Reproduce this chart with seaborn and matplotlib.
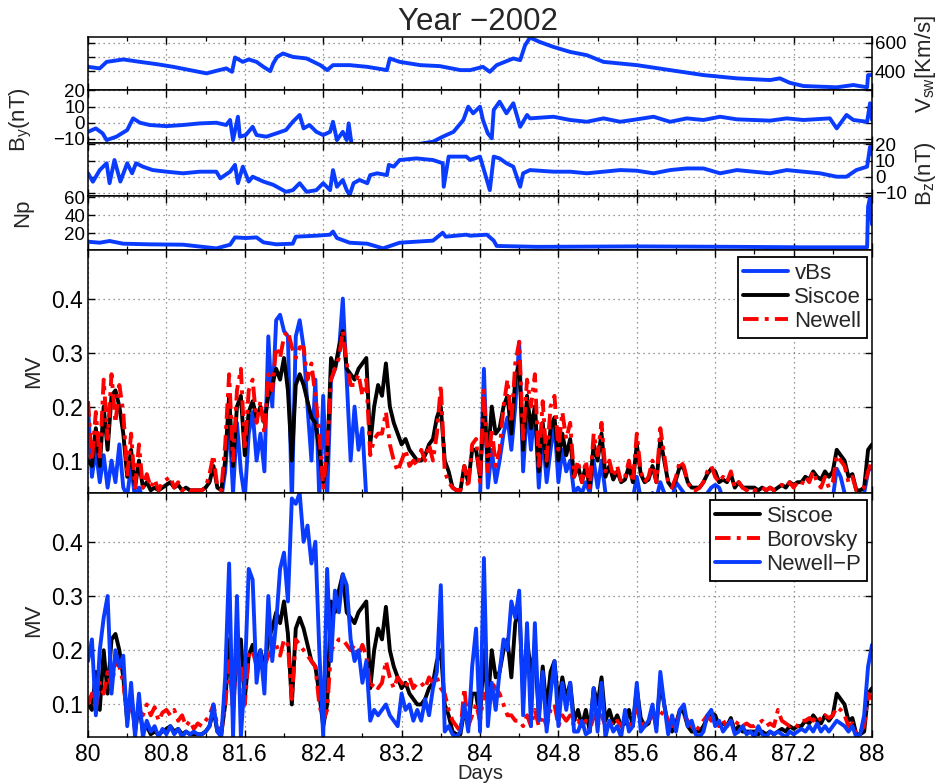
import numpy as np
import pandas as pd
import matplotlib
matplotlib.use("Agg")
import matplotlib.pyplot as plt
import seaborn as sns

# ------------------------------------------------------------------ data
# Solar-wind speed [km/s]
vsw_days = [80.00, 80.12, 80.19, 80.36, 80.53, 80.70, 80.87, 81.04, 81.21, 81.31,
            81.41, 81.47, 81.50, 81.58, 81.64, 81.72, 81.79, 81.86, 81.89, 81.93,
            81.99, 82.09, 82.23, 82.37, 82.44, 82.50, 82.67, 82.85, 83.05, 83.08,
            83.18, 83.39, 83.59, 83.80, 83.90, 84.03, 84.10, 84.17, 84.34, 84.41,
            84.46, 84.51, 84.61, 84.75, 84.92, 85.09, 85.26, 85.60, 85.94, 86.28,
            86.62, 86.96, 87.06, 87.16, 87.30, 87.64, 87.81, 87.95, 87.96, 88.00]
vsw = [430, 419, 465, 482, 465, 449, 430, 407, 384, 402,
       419, 395, 496, 465, 482, 465, 430, 400, 454, 500,
       524, 500, 489, 442, 407, 442, 442, 430, 407, 489,
       465, 442, 435, 407, 407, 430, 395, 442, 489, 477,
       582, 636, 605, 570, 535, 512, 465, 442, 407, 372,
       349, 337, 349, 318, 295, 286, 302, 286, 372, 372]

# IMF By [nT]
by_days = [80.00, 80.08, 80.15, 80.19, 80.29, 80.40, 80.46, 80.53, 80.63, 80.80,
           80.97, 81.14, 81.31, 81.41, 81.45, 81.48, 81.53, 81.55, 81.61, 81.68,
           81.72, 81.82, 81.92, 82.02, 82.09, 82.16, 82.20, 82.26, 82.33, 82.40,
           82.47, 82.50, 82.54, 82.60, 82.64, 82.66, 82.69, 82.85, 83.18, 83.52,
           83.62, 83.73, 83.83, 83.88, 83.93, 84.00, 84.03, 84.08, 84.12, 84.14,
           84.20, 84.27, 84.34, 84.41, 84.48, 84.51, 84.75, 84.92, 85.09, 85.26,
           85.43, 85.60, 85.77, 85.94, 86.11, 86.28, 86.45, 86.62, 86.96, 87.13,
           87.30, 87.57, 87.64, 87.74, 87.81, 87.95, 87.98, 88.00]
by = [-5.6, -3.5, -6.6, -10.7, -8.6, -4.5, 2.7, 0.0, -1.4, -2.1,
      -1.4, -0.4, 0.0, -1.4, 1.7, -10.7, 3.7, -8.6, -7.6, -2.5,
      -7.6, -8.6, -6.6, -4.5, 0.6, 4.8, -3.5, -1.4, -5.6, -7.6,
      -5.6, 0.6, -10.7, -5.6, -10.7, -0.4, -13.5, -15.0, -15.0, -11.7,
      -8.6, -5.6, 1.7, 9.9, 5.8, 9.9, 1.7, -6.6, -9.6, 7.9,
      13.0, 5.8, 12.0, -2.5, 4.8, 2.7, 3.7, 1.7, 0.6, 2.7,
      0.6, 2.1, 3.7, 0.6, 2.7, 1.7, 3.7, 2.1, 1.3, 2.7,
      1.7, 2.7, -3.5, 4.8, 1.7, 0.6, 12.0, 1.7]

# IMF Bz [nT]
bz_days = [80.00, 80.05, 80.12, 80.19, 80.22, 80.27, 80.33, 80.40, 80.45, 80.49,
           80.56, 80.66, 80.80, 80.97, 81.14, 81.31, 81.35, 81.45, 81.50, 81.53,
           81.58, 81.64, 81.68, 81.79, 81.89, 82.02, 82.09, 82.16, 82.23, 82.33,
           82.40, 82.47, 82.50, 82.54, 82.60, 82.64, 82.67, 82.71, 82.77, 82.85,
           82.88, 82.95, 83.05, 83.07, 83.12, 83.18, 83.35, 83.52, 83.62, 83.63,
           83.68, 83.86, 83.90, 84.00, 84.07, 84.10, 84.14, 84.20, 84.27, 84.34,
           84.41, 84.44, 84.51, 84.75, 84.92, 85.09, 85.26, 85.43, 85.60, 85.77,
           85.94, 86.11, 86.28, 86.45, 86.62, 86.79, 86.96, 87.13, 87.30, 87.47,
           87.64, 87.74, 87.84, 87.95, 87.98, 88.00]
bz = [2.1, -3.1, 4.1, 8.3, -4.0, 10.3, -3.0, 8.3, 2.1, 8.3,
      6.2, 4.1, 3.1, 2.1, 3.1, 3.1, -1.0, 3.1, 7.3, -4.0,
      6.2, -3.0, 0.0, -3.0, -5.0, -9.3, -8.3, -4.0, -9.3, -8.3,
      -4.0, -8.3, 4.1, -6.2, -2.0, -8.3, -11.3, -4.0, -2.0, -4.0,
      1.0, 2.1, 1.0, 7.3, 6.2, 10.3, 11.3, 10.3, 8.3, -6.2,
      12.4, 12.4, 10.3, 12.4, -2.0, -8.3, 12.4, 11.3, 8.3, 6.2,
      -6.2, 2.1, 4.1, 3.1, 3.1, 2.1, 3.1, 4.1, 3.7, 2.1,
      4.1, 5.1, 5.1, 2.1, 4.1, 3.1, 2.1, 4.1, 3.1, 2.1,
      0.0, 0.0, 4.1, 6.2, 18.4, 14.0]

# Proton density Np
np_days = [80.00, 80.12, 80.22, 80.36, 80.63, 80.97, 81.31, 81.45, 81.50, 81.61,
           81.72, 81.79, 81.92, 82.09, 82.12, 82.33, 82.47, 82.50, 82.54, 82.67,
           82.85, 83.01, 83.18, 83.52, 83.62, 83.65, 83.86, 83.90, 84.07, 84.14,
           84.17, 84.58, 85.60, 86.62, 87.30, 87.95, 87.96, 87.98, 88.00]
np_vals = [10.7, 9.6, 11.5, 8.5, 7.8, 7.4, 3.3, 7.4, 15.5, 14.8,
           15.5, 10.0, 7.8, 8.5, 16.3, 17.4, 18.5, 22.0, 14.8, 9.6,
           8.5, 3.3, 9.6, 11.9, 20.7, 16.3, 18.5, 17.4, 18.5, 11.9,
           6.0, 5.0, 5.5, 5.0, 4.5, 4.5, 49.6, 60.0, 30.0]

# Coupling functions (MV), sampled every 0.04 day, values in units of 0.01 MV
mv_days = [round(80 + 0.04 * i, 2) for i in range(201)]

vbs = [20, 7, 12, 6, 11, 5, 10, 6, 13, 5,
       3.5, 9, 3, 5, 3, 3, 3, 3, 3, 3,
       3, 3, 3, 3, 3, 3, 3, 3, 3, 3,
       3, 3, 3, 3, 3, 8, 18, 4, 17, 8,
       3, 15, 19, 10, 15, 8, 33, 20, 36, 37,
       34, 33, 2, 33, 36, 31, 20, 10, 25, 3,
       22, 3, 25, 27, 30, 40, 25, 10, 20, 12,
       16, 3, 3, 3, 3, 3, 3, 3, 3, 3,
       3, 3, 3, 3, 3, 3, 3, 3, 3, 3,
       3, 3, 3, 3, 3, 3, 3, 3, 3, 3,
       3, 27, 5, 12, 6, 10, 15, 18, 12, 20,
       32, 8, 20, 12, 20, 5, 15, 6, 12, 17,
       6, 12, 8, 10, 4, 5, 4, 6, 4, 10,
       5, 10, 4, 3, 3, 3, 3, 3, 3, 3,
       7, 3, 3, 3, 4, 3, 6, 4, 3, 3,
       6, 5, 4, 3, 3, 3, 3, 3, 4, 5,
       5.5, 5, 3, 3, 3, 3, 3, 3, 3, 3,
       3, 3, 3, 3, 3, 3, 3, 3, 3, 3,
       3, 3, 3, 3, 3, 3, 3, 3, 3, 3,
       3, 8.5, 7, 4, 3, 3, 3, 3, 4, 8,
       9]

siscoe = [10, 9, 16, 9, 20, 12, 22, 23, 20, 15,
          7, 12, 5, 10, 5, 6, 4.5, 5, 4.5, 5,
          5.5, 6, 5, 5.5, 4.5, 5, 4.5, 4.5, 4.5, 4.5,
          5, 6, 9, 5, 4.5, 10, 22, 9, 20, 22,
          11, 19, 21, 18, 20, 17, 22, 24, 27, 25,
          29, 23, 10, 24, 26, 24, 21, 18, 17, 12,
          6, 10, 29, 27, 31, 34, 27, 26, 25, 27,
          28, 29, 13, 20, 24, 22, 28, 20, 17, 15,
          13, 14, 12, 11, 10, 10, 11, 13, 14, 18,
          20, 10, 8, 5, 4.5, 4.5, 9, 6, 12, 12,
          7, 20, 10, 20, 15, 16, 20, 22, 15, 25,
          28, 12, 22, 16, 20, 8, 17, 9, 16, 18,
          10, 15, 11, 14, 7, 9, 6, 9, 5, 13,
          10, 15, 7, 9, 6.5, 8, 6, 6.5, 9, 6,
          13, 7.5, 6, 6.5, 9, 6, 14, 10, 6, 5,
          6.5, 9, 8.5, 6, 5, 5, 5, 6, 7.5, 8.5,
          8, 6, 6.5, 6, 7.5, 5, 6, 5, 5, 5,
          5, 4.5, 5, 4.5, 5, 4.5, 5, 5.5, 5, 6,
          5.5, 6, 6, 7, 6.5, 8, 7, 6.5, 8, 7,
          8, 12, 11, 10, 7, 7.5, 4.5, 4.5, 5, 12,
          13]

newell = [21, 10, 19, 10, 25, 14, 26, 17, 24, 19,
          7, 15, 5, 13, 5, 7.5, 5, 6.5, 4.5, 6,
          6.5, 7, 5, 6, 4.5, 5, 4.5, 4.5, 4.5, 4.5,
          5, 7.5, 11, 5, 4.5, 13, 26, 10, 23, 27,
          12, 23, 25, 17, 21, 15, 26, 23, 31, 29,
          33, 34, 31, 29, 31, 31, 25, 28, 22, 15,
          5, 12, 25, 27, 29, 34, 28, 24, 24, 26,
          22, 25, 11, 14, 15, 15, 19, 13, 10, 8,
          10, 12, 9, 10, 9, 12, 10, 13, 10, 15,
          24, 8, 6, 5, 4.5, 4.5, 9, 5, 13, 14,
          6, 23, 8, 16, 9, 12, 20, 25, 17, 28,
          32, 14, 25, 20, 26, 9, 21, 10, 20, 22,
          12, 19, 14, 17, 7, 10, 6, 10, 5, 15,
          11, 17, 8, 10, 7, 9, 6, 7, 10, 6,
          15, 8, 6, 7, 10, 6, 16, 11, 6, 5,
          7, 10, 9, 6, 4.5, 4.5, 5, 6, 8, 9,
          7, 6, 7, 6, 8, 5, 6, 5, 4.5, 5,
          4.5, 4.5, 5, 4.5, 5, 4.5, 5, 5.5, 5, 6,
          5, 6, 5.5, 7, 6, 8, 6, 5, 7, 5,
          6, 11, 10, 9, 6, 7, 4.5, 4.5, 5, 8,
          10]

borovsky = [10, 12, 9, 14, 12, 16, 13, 18, 17, 14,
            8, 10, 7, 9, 8, 10, 8, 9.5, 7, 8.5,
            9, 8, 9, 7, 8, 6, 7, 5.5, 6.5, 6,
            7, 8, 10, 6, 5, 10, 18, 9, 19, 17,
            10, 19, 20, 17, 18, 17, 19, 20, 21, 19,
            22, 21, 11, 22, 21, 20, 19, 18, 17, 10,
            7, 9, 20, 21, 22, 22, 21, 20, 21, 19,
            21, 19, 13, 14, 13, 14, 18, 15, 13, 15,
            14, 13, 15, 13, 14, 14, 13, 15, 14, 15,
            13, 12, 9, 7, 6, 5, 13, 6, 8, 10,
            7, 12, 11, 14, 13, 12, 10, 8, 8, 7,
            7, 6, 8, 6, 9, 6, 8, 6, 9, 10,
            6, 8, 7, 8, 6, 7, 6, 7, 5, 8,
            6, 8, 6, 7, 6, 7, 6, 7, 6, 8,
            9, 7, 6, 7, 8, 7, 8, 9, 7, 6,
            7, 8, 8, 7, 6, 5, 6, 7, 8, 7,
            7, 6, 7, 6, 7, 6, 7, 6, 6.5, 6,
            6, 6.5, 7, 6, 6.5, 6, 9, 7, 6.5, 6,
            6.5, 6, 7, 7, 7.5, 7, 8, 7, 8, 7.5,
            8, 9.5, 9, 8, 6, 6.5, 4.5, 5, 6, 12,
            11]

newell_p = [18, 22, 8, 20, 26, 30, 12, 20, 17, 19,
            6, 14, 4, 12, 4, 7, 5, 6, 4, 5.5,
            4.5, 6, 4.5, 5.5, 4, 5, 4.5, 5, 4.5, 4.5,
            5, 6, 10, 5, 4, 15, 36, 4, 30, 4,
            15, 35, 33, 14, 20, 12, 30, 18, 25, 35,
            38, 29, 48, 47, 49, 40, 43, 36, 40, 20,
            4, 35, 18, 31, 27, 34, 32, 22, 18, 20,
            14, 18, 7, 9, 8, 9, 10, 8, 7, 6,
            12, 9, 10, 7, 9, 7, 11, 8, 13, 16,
            32, 5, 6, 4.5, 4, 5, 10, 5, 17, 24,
            5, 37, 6, 14, 9, 16, 22, 20, 29, 26,
            31, 8, 25, 6, 25, 7, 16, 5, 12, 18,
            6, 14, 9, 14, 5, 5, 7, 4.5, 5, 13,
            5, 14, 4, 7, 5, 6, 4, 9, 5, 6,
            14, 5, 6, 7, 10, 5, 16, 10, 4.5, 8,
            5, 9, 10, 6, 7, 4.5, 4, 5, 8, 9,
            6, 7, 5, 6, 7, 4.5, 5, 6, 4.5, 5,
            4, 6, 4.5, 4, 5, 4.5, 5, 4.5, 4, 5,
            4.5, 5, 5.5, 5, 6, 5, 6.5, 5, 6, 5,
            6, 7, 6.5, 6, 5, 6, 4, 4.5, 8, 17,
            21]

x_ticks = [80, 80.8, 81.6, 82.4, 83.2, 84, 84.8, 85.6, 86.4, 87.2, 88]
x_tick_labels = ["80", "80.8", "81.6", "82.4", "83.2", "84", "84.8",
                 "85.6", "86.4", "87.2", "88"]
x_minor = [80.4, 81.2, 82.0, 82.8, 83.6, 84.4, 85.2, 86.0, 86.8, 87.6]

mv = pd.DataFrame({"day": mv_days,
                   "vBs": np.array(vbs) / 100.0,
                   "Siscoe": np.array(siscoe) / 100.0,
                   "Newell": np.array(newell) / 100.0,
                   "Borovsky": np.array(borovsky) / 100.0,
                   "Newell-P": np.array(newell_p) / 100.0})

# ------------------------------------------------------------------ style
sns.set_theme(style="white")
plt.rcParams["font.family"] = ["Liberation Sans", "DejaVu Sans"]
plt.rcParams["mathtext.fontset"] = "custom"
plt.rcParams["mathtext.rm"] = "Liberation Sans"
plt.rcParams["mathtext.it"] = "Liberation Sans:italic"
plt.rcParams["mathtext.default"] = "regular"
plt.rcParams["axes.unicode_minus"] = True

BLUE = "#0a3cff"
RED = "#ff0000"
BLACK = "#000000"
DASHDOT = (0, (4, 1.6, 1, 1.6))

W_PX, H_PX = 938, 783
X0, X1 = 88, 872
fig = plt.figure(figsize=(W_PX / 100, H_PX / 100), dpi=100)


def add(top, bot):
    return fig.add_axes([X0 / W_PX, 1 - bot / H_PX, (X1 - X0) / W_PX, (bot - top) / H_PX])


ax_v = add(37, 90)
ax_by = add(90, 143)
ax_bz = add(143, 196)
ax_np = add(196, 250)
ax_m1 = add(250, 493)
ax_m2 = add(493, 737)


def line(ax, x, y, color, ls="-", lw=2.8, label=None):
    sns.lineplot(x=x, y=y, ax=ax, color=color, linestyle=ls, linewidth=lw,
                 estimator=None, errorbar=None, legend=False)
    if label is not None:
        ax.lines[-1].set_label(label)


def style(ax, labelsize, show_x=False):
    ax.set_xlim(80, 88)
    ax.set_xticks(x_ticks)
    ax.set_xticks(x_minor, minor=True)
    ax.set_xticklabels(x_tick_labels)
    ax.tick_params(which="both", direction="in", top=True, bottom=True,
                   left=True, right=True, colors="black", labelsize=labelsize)
    ax.tick_params(which="major", length=5, width=1.0)
    ax.tick_params(which="minor", length=3, width=0.9)
    ax.tick_params(axis="x", labelbottom=show_x, pad=4)
    ax.grid(True, which="major", linestyle=(0, (1, 3)), color="#777777", linewidth=0.9)
    ax.set_axisbelow(True)
    for s in ax.spines.values():
        s.set_visible(True)
        s.set_color("black")
        s.set_linewidth(1.1)
    ax.set_xlabel("")
    ax.set_ylabel("")


TOP_FS = 13.5
MV_FS = 16.5
LAB_FS = 16

# ---- Vsw
line(ax_v, vsw_days, vsw, BLUE)
style(ax_v, TOP_FS)
ax_v.set_ylim(267, 640)
ax_v.set_yticks([400, 500, 600])
ax_v.set_yticklabels(["400", "", "600"])
ax_v.tick_params(axis="y", labelleft=False, labelright=True, pad=2)
ax_v.yaxis.set_label_position("right")
ax_v.set_ylabel(r"$V_{sw}$[Km/s]", fontsize=LAB_FS, rotation=90)
ax_v.yaxis.set_label_coords(1.052, 0.5)

# ---- By
line(ax_by, by_days, by, BLUE)
style(ax_by, TOP_FS)
ax_by.set_ylim(-12.5, 20.2)
ax_by.set_yticks([-10, 0, 10, 20])
ax_by.tick_params(axis="y", pad=2)
ax_by.set_ylabel(r"$B_y$(nT)", fontsize=LAB_FS)
ax_by.yaxis.set_label_coords(-0.069, 0.45)

# ---- Bz
line(ax_bz, bz_days, bz, BLUE)
style(ax_bz, TOP_FS)
ax_bz.set_ylim(-11.9, 20.8)
ax_bz.set_yticks([-10, 0, 10, 20])
ax_bz.tick_params(axis="y", labelleft=False, labelright=True, pad=2)
ax_bz.yaxis.set_label_position("right")
ax_bz.set_ylabel(r"$B_z$(nT)", fontsize=LAB_FS, rotation=90)
ax_bz.yaxis.set_label_coords(1.052, 0.43)

# ---- Np
line(ax_np, np_days, np_vals, BLUE)
style(ax_np, TOP_FS)
ax_np.set_ylim(1.5, 61.5)
ax_np.set_yticks([20, 40, 60])
ax_np.tick_params(axis="y", pad=2)
ax_np.set_ylabel("Np", fontsize=LAB_FS)
ax_np.yaxis.set_label_coords(-0.07, 0.69)

# ---- MV panel 1
line(ax_m1, mv["day"], mv["vBs"], BLUE, label="vBs")
line(ax_m1, mv["day"], mv["Siscoe"], BLACK, label="Siscoe")
line(ax_m1, mv["day"], mv["Newell"], RED, ls=DASHDOT, label="Newell")
style(ax_m1, MV_FS)
ax_m1.set_ylim(0.04, 0.49)
ax_m1.set_yticks([0.1, 0.2, 0.3, 0.4])
ax_m1.set_yticklabels(["0.1", "0.2", "0.3", "0.4"])
ax_m1.set_ylabel("MV", fontsize=LAB_FS)
ax_m1.yaxis.set_label_coords(-0.056, 0.5)

# ---- MV panel 2
line(ax_m2, mv["day"], mv["Siscoe"], BLACK, label="Siscoe")
line(ax_m2, mv["day"], mv["Borovsky"], RED, ls=DASHDOT, label="Borovsky")
line(ax_m2, mv["day"], mv["Newell-P"], BLUE, label="Newell\u2212P")
style(ax_m2, MV_FS, show_x=True)
ax_m2.set_ylim(0.04, 0.49)
ax_m2.set_yticks([0.1, 0.2, 0.3, 0.4])
ax_m2.set_yticklabels(["0.1", "0.2", "0.3", "0.4"])
ax_m2.set_ylabel("MV", fontsize=LAB_FS)
ax_m2.yaxis.set_label_coords(-0.056, 0.48)
ax_m2.set_xlabel("Days", fontsize=14.5, labelpad=-1)

for ax in (ax_m1, ax_m2):
    h, l = ax.get_legend_handles_labels()
    leg = ax.legend(h, l, loc="upper right",
                    bbox_to_anchor=(1 - 5 / 784, 1 - 7 / 243),
                    borderaxespad=0, fontsize=16, frameon=True, fancybox=False,
                    edgecolor="black", framealpha=1, handlelength=2.0,
                    handletextpad=0.3, labelspacing=0.15, borderpad=0.25)
    leg.get_frame().set_linewidth(1.3)

fig.text(478 / W_PX, 1 - 22 / H_PX, "Year \u22122002", ha="center", va="center",
         fontsize=22.5)

fig.savefig("out.png", dpi=100)
